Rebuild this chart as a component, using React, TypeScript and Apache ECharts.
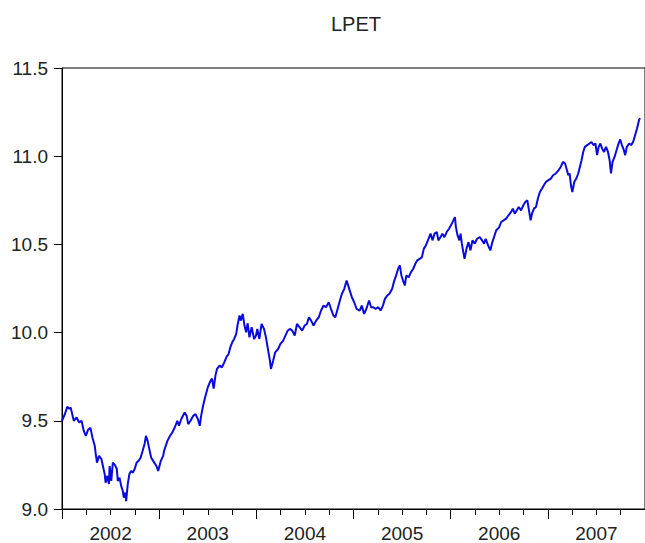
import React, { useEffect, useRef } from "react";
import * as echarts from "echarts";

const title = "LPET";
const yearLabels = ["2002", "2003", "2004", "2005", "2006", "2007"];
const yTicks = { min: 9.0, max: 11.5, step: 0.5 };

// time in fractional years
const years = [
  2002.000, 2002.031, 2002.054, 2002.074, 2002.089, 2002.109, 2002.122, 2002.150, 2002.177, 2002.201,
  2002.224, 2002.245, 2002.268, 2002.293, 2002.313, 2002.337, 2002.347, 2002.360, 2002.381, 2002.405,
  2002.421, 2002.439, 2002.449, 2002.466, 2002.483, 2002.490, 2002.507, 2002.523, 2002.544, 2002.564,
  2002.574, 2002.592, 2002.609, 2002.626, 2002.636, 2002.653, 2002.660, 2002.677, 2002.694, 2002.711,
  2002.728, 2002.748, 2002.768, 2002.789, 2002.809, 2002.830, 2002.850, 2002.864, 2002.881, 2002.898,
  2002.918, 2002.949, 2002.972, 2002.990, 2003.017, 2003.041, 2003.051, 2003.085, 2003.112, 2003.136,
  2003.160, 2003.187, 2003.204, 2003.228, 2003.262, 2003.283, 2003.299, 2003.323, 2003.350, 2003.374,
  2003.398, 2003.418, 2003.432, 2003.452, 2003.477, 2003.500, 2003.528, 2003.544, 2003.561, 2003.579,
  2003.595, 2003.622, 2003.646, 2003.670, 2003.691, 2003.714, 2003.732, 2003.752, 2003.772, 2003.793,
  2003.806, 2003.827, 2003.840, 2003.860, 2003.878, 2003.895, 2003.911, 2003.929, 2003.952, 2003.977,
  2003.997, 2004.010, 2004.031, 2004.054, 2004.079, 2004.099, 2004.122, 2004.140, 2004.150, 2004.173,
  2004.194, 2004.224, 2004.248, 2004.276, 2004.299, 2004.323, 2004.344, 2004.370, 2004.395, 2004.418,
  2004.446, 2004.472, 2004.497, 2004.520, 2004.541, 2004.564, 2004.589, 2004.615, 2004.643, 2004.666,
  2004.691, 2004.717, 2004.745, 2004.768, 2004.793, 2004.813, 2004.837, 2004.860, 2004.881, 2004.905,
  2004.929, 2004.956, 2004.983, 2005.007, 2005.031, 2005.064, 2005.085, 2005.109, 2005.133, 2005.160,
  2005.181, 2005.201, 2005.228, 2005.255, 2005.279, 2005.303, 2005.323, 2005.347, 2005.370, 2005.398,
  2005.415, 2005.439, 2005.459, 2005.477, 2005.493, 2005.510, 2005.528, 2005.544, 2005.568, 2005.592,
  2005.615, 2005.636, 2005.656, 2005.684, 2005.704, 2005.724, 2005.745, 2005.772, 2005.793, 2005.813,
  2005.834, 2005.857, 2005.874, 2005.895, 2005.915, 2005.936, 2005.959, 2005.983, 2006.003, 2006.028,
  2006.044, 2006.054, 2006.071, 2006.089, 2006.102, 2006.115, 2006.130, 2006.143, 2006.163, 2006.184,
  2006.204, 2006.224, 2006.248, 2006.272, 2006.299, 2006.323, 2006.344, 2006.360, 2006.385, 2006.408,
  2006.429, 2006.452, 2006.469, 2006.497, 2006.520, 2006.544, 2006.571, 2006.595, 2006.622, 2006.640,
  2006.660, 2006.681, 2006.701, 2006.724, 2006.748, 2006.768, 2006.789, 2006.803, 2006.823, 2006.837,
  2006.857, 2006.878, 2006.898, 2006.918, 2006.939, 2006.959, 2006.980, 2007.007, 2007.031, 2007.054,
  2007.082, 2007.109, 2007.133, 2007.156, 2007.177, 2007.197, 2007.211, 2007.224, 2007.238, 2007.252,
  2007.272, 2007.293, 2007.313, 2007.334, 2007.347, 2007.364, 2007.381, 2007.405, 2007.429, 2007.449,
  2007.469, 2007.490, 2007.507, 2007.523, 2007.541, 2007.558, 2007.579, 2007.599, 2007.619, 2007.636,
  2007.650, 2007.666, 2007.687, 2007.707, 2007.728, 2007.745, 2007.762, 2007.783, 2007.796, 2007.813,
  2007.837, 2007.857, 2007.878, 2007.898, 2007.918, 2007.939, 2007.949,
];

const lpet = [
  9.500, 9.540, 9.580, 9.568, 9.576, 9.528, 9.500, 9.519, 9.490, 9.500,
  9.443, 9.415, 9.449, 9.460, 9.405, 9.358, 9.313, 9.263, 9.301, 9.284,
  9.244, 9.199, 9.149, 9.188, 9.142, 9.244, 9.159, 9.263, 9.250, 9.227,
  9.159, 9.178, 9.131, 9.102, 9.064, 9.093, 9.045, 9.142, 9.199, 9.216,
  9.206, 9.227, 9.263, 9.273, 9.291, 9.330, 9.369, 9.415, 9.386, 9.341,
  9.291, 9.263, 9.244, 9.216, 9.273, 9.301, 9.330, 9.386, 9.415, 9.434,
  9.462, 9.500, 9.472, 9.510, 9.547, 9.528, 9.481, 9.500, 9.528, 9.538,
  9.510, 9.472, 9.528, 9.585, 9.642, 9.689, 9.727, 9.739, 9.682, 9.756,
  9.794, 9.813, 9.803, 9.831, 9.860, 9.879, 9.916, 9.945, 9.964, 9.993,
  10.040, 10.097, 10.068, 10.106, 10.040, 10.002, 10.053, 9.973, 10.030, 9.964,
  9.983, 10.021, 9.964, 10.049, 10.021, 9.973, 9.898, 9.841, 9.794, 9.841,
  9.888, 9.907, 9.936, 9.955, 9.983, 10.011, 10.021, 10.011, 9.983, 10.049,
  10.030, 10.011, 10.040, 10.049, 10.087, 10.068, 10.040, 10.068, 10.087, 10.125,
  10.153, 10.144, 10.172, 10.135, 10.097, 10.087, 10.135, 10.182, 10.220, 10.248,
  10.295, 10.248, 10.201, 10.172, 10.135, 10.125, 10.153, 10.106, 10.135, 10.182,
  10.144, 10.144, 10.135, 10.144, 10.125, 10.153, 10.191, 10.210, 10.220, 10.248,
  10.286, 10.324, 10.362, 10.381, 10.324, 10.295, 10.267, 10.324, 10.314, 10.343,
  10.362, 10.390, 10.409, 10.419, 10.428, 10.476, 10.494, 10.532, 10.561, 10.523,
  10.561, 10.570, 10.523, 10.541, 10.561, 10.541, 10.570, 10.589, 10.608, 10.636,
  10.655, 10.598, 10.551, 10.523, 10.561, 10.504, 10.456, 10.419, 10.476, 10.513,
  10.466, 10.523, 10.504, 10.532, 10.541, 10.523, 10.504, 10.532, 10.494, 10.466,
  10.513, 10.551, 10.580, 10.595, 10.627, 10.636, 10.646, 10.665, 10.684, 10.703,
  10.674, 10.693, 10.712, 10.693, 10.722, 10.740, 10.750, 10.703, 10.636, 10.674,
  10.703, 10.712, 10.760, 10.797, 10.816, 10.835, 10.854, 10.864, 10.873, 10.892,
  10.902, 10.920, 10.939, 10.968, 10.959, 10.920, 10.892, 10.902, 10.835, 10.797,
  10.854, 10.873, 10.902, 10.949, 10.977, 11.024, 11.053, 11.063, 11.072, 11.081,
  11.063, 11.072, 11.006, 11.053, 11.072, 11.044, 11.024, 11.053, 11.024, 10.977,
  10.902, 10.968, 10.996, 11.034, 11.072, 11.095, 11.063, 11.034, 11.006, 11.053,
  11.072, 11.063, 11.081, 11.119, 11.157, 11.205, 11.216,
];

const FONT = "Arial, 'Liberation Sans', sans-serif";

export default function App() {
  const ref = useRef<HTMLDivElement>(null);
  useEffect(() => {
    if (!ref.current) return;
    const chart = echarts.init(ref.current, null, { renderer: "svg" });
    const data = years.map((y, i) => [y, lpet[i]]);
    chart.setOption({
      animation: false,
      backgroundColor: "#ffffff",
      title: {
        text: title,
        left: 326,
        top: 9,
        textStyle: { fontFamily: FONT, fontSize: 20, fontWeight: "normal", color: "#222" },
      },
      grid: {
        left: 62,
        top: 68,
        right: -5,
        bottom: 34,
        show: true,
        borderColor: "#000",
        borderWidth: 1,
        backgroundColor: "transparent",
      },
      xAxis: [
        {
          type: "value",
          min: 2002,
          max: 2008,
          interval: 1,
          axisLine: { lineStyle: { color: "#000", width: 1 } },
          axisTick: { show: true, length: 10, lineStyle: { color: "#000", width: 1 } },
          minorTick: { show: true, splitNumber: 4, length: 6, lineStyle: { color: "#000", width: 1 } },
          axisLabel: { show: false },
          splitLine: { show: false },
          minorSplitLine: { show: false },
        },
        {
          type: "category",
          data: yearLabels,
          boundaryGap: true,
          position: "bottom",
          axisLine: { show: false },
          axisTick: { show: false },
          axisLabel: { margin: 15, fontFamily: FONT, fontSize: 19, color: "#222" },
          splitLine: { show: false },
        },
      ],
      yAxis: {
        type: "value",
        min: yTicks.min,
        max: yTicks.max,
        interval: yTicks.step,
        axisLine: { show: true, lineStyle: { color: "#000", width: 1 } },
        axisTick: { show: true, length: 8, lineStyle: { color: "#000", width: 1 } },
        axisLabel: {
          margin: 14,
          fontFamily: FONT,
          fontSize: 19,
          color: "#222",
          formatter: (v: number) => v.toFixed(1),
        },
        splitLine: { show: false },
      },
      series: [
        {
          type: "line",
          xAxisIndex: 0,
          data,
          showSymbol: false,
          symbol: "none",
          lineStyle: { color: "#0a0adc", width: 2 },
        },
      ],
    });
    return () => chart.dispose();
  }, []);
  return (
    <div
      ref={ref}
      style={{ position: "fixed", left: 0, top: 0, width: 645, height: 543, background: "#fff" }}
    />
  );
}
